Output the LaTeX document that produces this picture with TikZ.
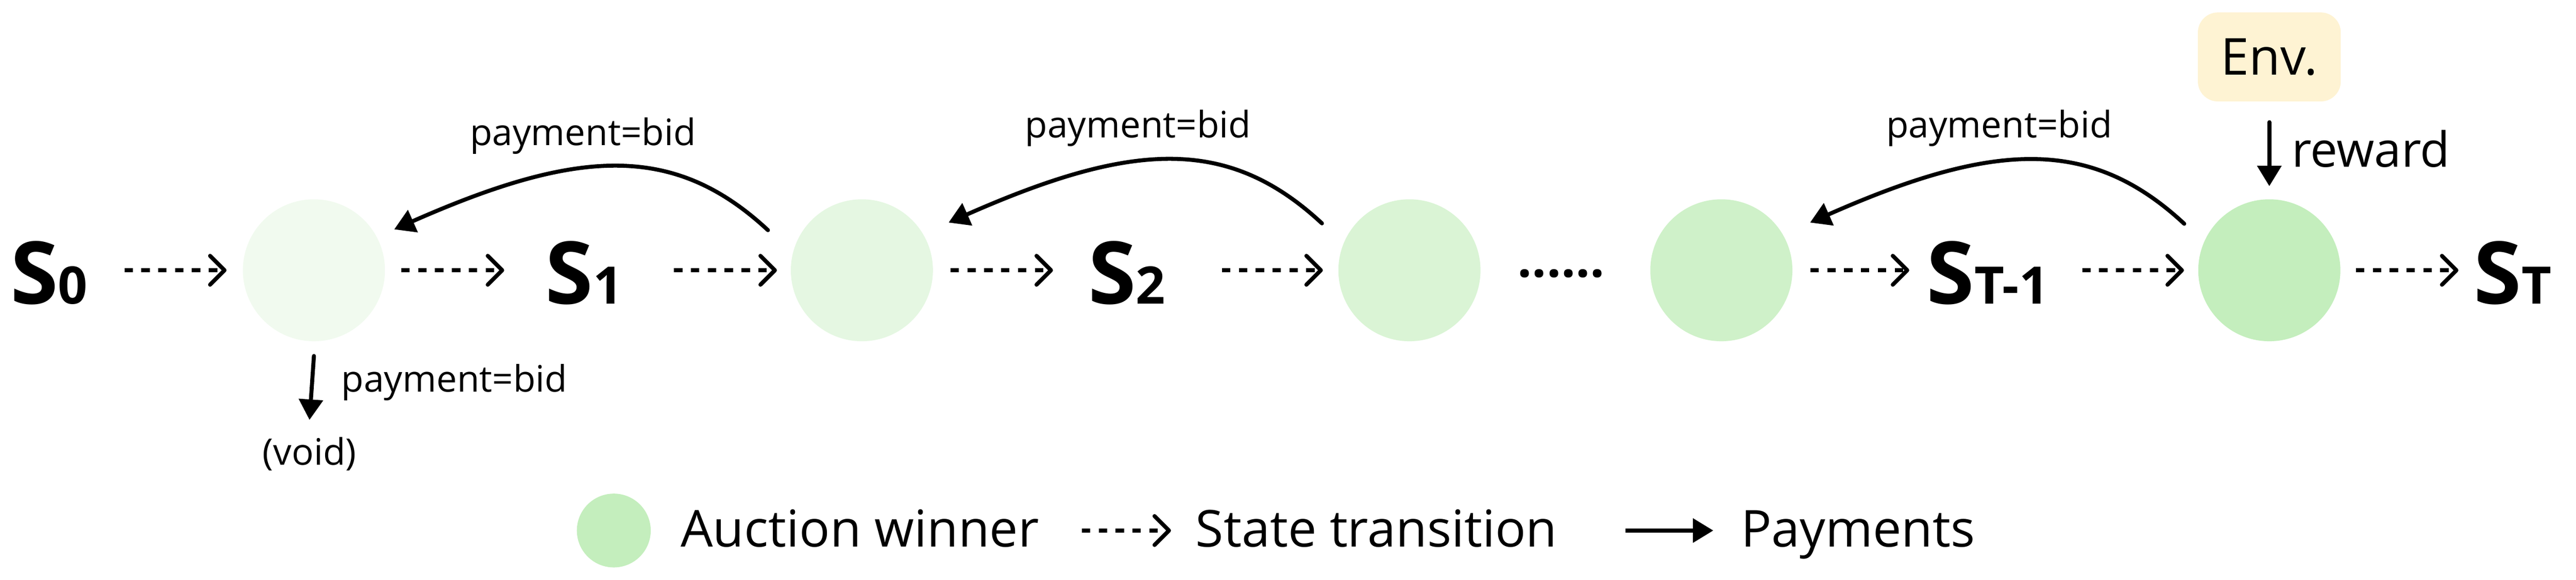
\documentclass[tikz,border=0pt]{standalone}
\usepackage{fontspec}
\setmainfont{Open Sans}
\usetikzlibrary{arrows.meta,calc}
\definecolor{wa}{HTML}{F1FAEF}
\definecolor{wb}{HTML}{E5F7E2}
\definecolor{wc}{HTML}{DAF4D5}
\definecolor{wd}{HTML}{CFF1C9}
\definecolor{we}{HTML}{C4EEBD}
\definecolor{envfill}{HTML}{FEF3D3}
\newcommand\mysub[1]{{\fontsize{36.7}{37}\selectfont #1}}
\begin{document}
\begin{tikzpicture}[
  win/.style={circle, inner sep=0pt, minimum size=3.54cm},
  snode/.style={inner sep=0pt, anchor=base west, font=\fontsize{61.5}{62}\selectfont\bfseries},
  lbl/.style={inner sep=0pt, font=\fontsize{25.9}{26}\selectfont},
  big/.style={inner sep=0pt, font=\fontsize{36.1}{37}\selectfont},
  trans/.style={line width=0.11cm, dash pattern=on 0.21cm off 0.21cm,
    -{Straight Barb[length=0.36cm, width=0.72cm, line width=0.10cm, round]}},
  pay/.style={line width=0.10cm, line cap=round, -{Triangle[length=0.51cm, width=0.59cm]}},
]
\useasboundingbox (0,0) rectangle (64.17,-14.46);

% winners
\node[win, fill=wa] (c1) at (7.82,-6.74) {};
\node[win, fill=wb] (c2) at (21.47,-6.74) {};
\node[win, fill=wc] (c3) at (35.11,-6.74) {};
\node[win, fill=wd] (c4) at (42.88,-6.74) {};
\node[win, fill=we] (c5) at (56.53,-6.74) {};

% states
\node[snode] (s0) at (0.25,-7.58) {S\mysub{0}};
\node[snode] (s1) at (13.58,-7.58) {S\mysub{1}};
\node[snode] (s2) at (27.10,-7.58) {S\mysub{2}};
\node[snode] (st1) at (47.99,-7.58) {S\mysub{T-1}};
\node[snode] (st) at (61.62,-7.58) {S\mysub{T}};
\node[inner sep=0pt, anchor=base, font=\fontsize{36.1}{37}\selectfont\bfseries] (dots) at (38.89,-6.91) {......};

% state transitions
\draw[trans] ($(s0.west |- c1)+(2.85,0)$) -- ($(c1.west)+(-0.40,0)$);
\draw[trans] ($(c1.east)+(0.40,0)$) -- ($(s1.west |- c1)+(-1.02,0)$);
\draw[trans] ($(s1.west |- c2)+(3.21,0)$) -- ($(c2.west)+(-0.34,0)$);
\draw[trans] ($(c2.east)+(0.43,0)$) -- ($(s2.west |- c2)+(-0.87,0)$);
\draw[trans] ($(s2.west |- c3)+(3.34,0)$) -- ($(c3.west)+(-0.38,0)$);
\draw[trans] ($(c4.east)+(0.44,0)$) -- ($(st1.west |- c4)+(-0.43,0)$);
\draw[trans] ($(st1.west |- c5)+(3.88,0)$) -- ($(c5.west)+(-0.35,0)$);
\draw[trans] ($(c5.east)+(0.38,0)$) -- ($(st.west |- c5)+(-0.38,0)$);

% payments between winners
\coordinate (p1s) at ($(c2)+(-2.34,1.00)$);
\coordinate (p1e) at ($(c1)+(2.00,1.02)$);
\coordinate (p2s) at ($(c3)+(-2.18,1.17)$);
\coordinate (p2e) at ($(c2)+(2.16,1.19)$);
\coordinate (p3s) at ($(c5)+(-2.12,1.16)$);
\coordinate (p3e) at ($(c4)+(2.21,1.19)$);
\draw[pay] (p1s) .. controls ($(p1s)+(-2.34,2.18)$) and ($(p1e)+(4.57,2.02)$) .. (p1e);
\draw[pay] (p2s) .. controls ($(p2s)+(-2.34,2.18)$) and ($(p2e)+(4.57,2.02)$) .. (p2e);
\draw[pay] (p3s) .. controls ($(p3s)+(-2.34,2.18)$) and ($(p3e)+(4.57,2.02)$) .. (p3e);
\node[lbl, anchor=base] (l1) at (14.52,-3.62) {payment=bid};
\node[lbl, anchor=base] (l2) at (28.35,-3.43) {payment=bid};
\node[lbl, anchor=base] (l3) at (49.80,-3.43) {payment=bid};

% first winner pays to void
\node[lbl, anchor=base] (void) at (7.71,-11.60) {(void)};
\draw[pay] ($(c1.south)+(0,-0.36)$) -- ([yshift=0.43cm]void.north);
\node[lbl, anchor=base west] (l0) at (8.50,-9.77) {payment=bid};

% environment reward
\node[big, fill=envfill, rounded corners=0.5cm, minimum width=3.56cm, minimum height=2.22cm] (env) at (56.53,-1.42) {Env.};
\draw[pay] ([yshift=-0.51cm]env.south) -- ([yshift=0.32cm]c5.north);
\node[inner sep=0pt, anchor=base west, font=\fontsize{34.4}{35}\selectfont] (rew) at (57.08,-4.16) {reward};

% legend
\node[circle, inner sep=0pt, minimum size=1.84cm, fill=we] (lgc) at (15.29,-13.23) {};
\node[big, anchor=base west] (lga) at (16.95,-13.64) {Auction winner};
\coordinate (lt1) at (26.95,-13.23);
\coordinate (lt2) at (29.17,-13.23);
\draw[trans] (lt1) -- (lt2);
\node[big, anchor=base west] (lgs) at (29.78,-13.64) {State transition};
\coordinate (lp1) at (40.49,-13.23);
\coordinate (lp2) at (42.68,-13.23);
\draw[pay, line cap=butt] (lp1) -- (lp2);
\node[big, anchor=base west] (lgp) at (43.36,-13.64) {Payments};
\end{tikzpicture}
\end{document}
